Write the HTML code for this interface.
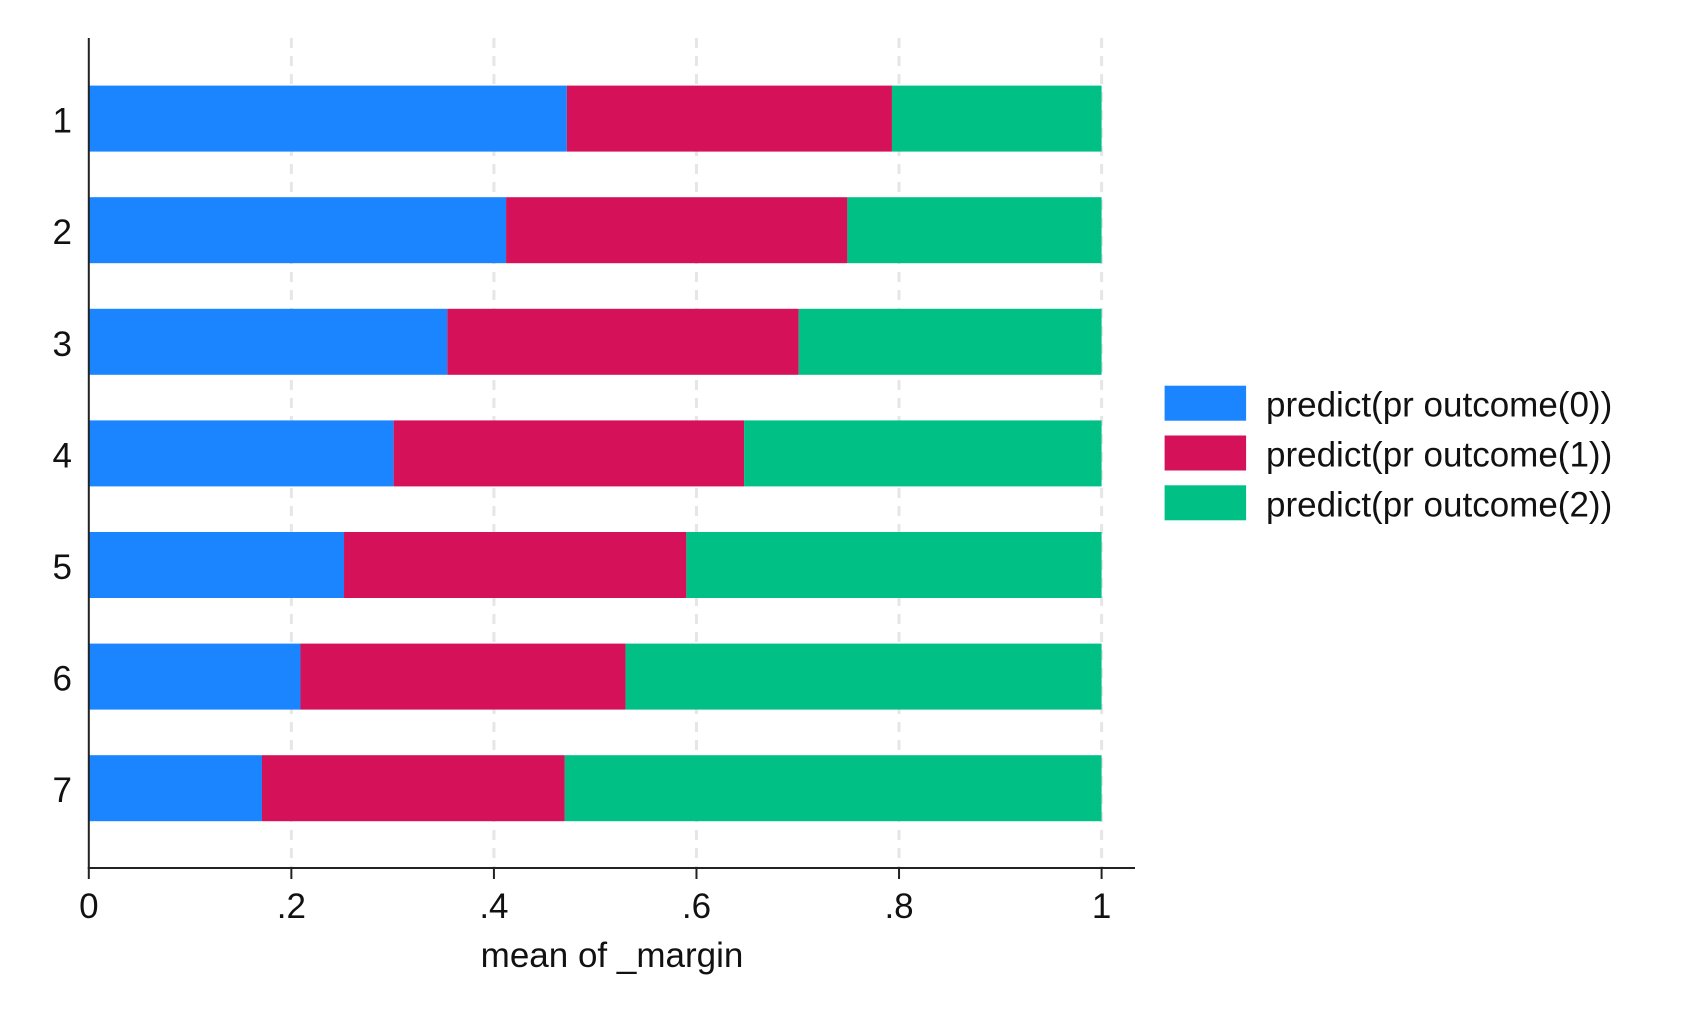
<!DOCTYPE html>
<html><head><meta charset="utf-8"><style>
body{margin:0;background:#fff}
svg{display:block;font-family:"Liberation Sans",sans-serif}
</style></head><body>
<svg id="chart" width="1698" height="1018" viewBox="0 0 1698 1018">
<g id="grid"></g>
<g id="bars"></g>
<g id="axes"></g>
<g id="legend"></g>
</svg>
<script>
const categories = ["1","2","3","4","5","6","7"];
const outcome0 = [0.472,0.412,0.354,0.301,0.252,0.209,0.171];
const outcome1 = [0.321,0.337,0.347,0.346,0.338,0.321,0.299];
const outcome2 = [0.207,0.251,0.299,0.353,0.410,0.470,0.530];
const xTicks = [0,0.2,0.4,0.6,0.8,1];
const xTickLabels = ["0",".2",".4",".6",".8","1"];
const seriesNames = ["predict(pr outcome(0))","predict(pr outcome(1))","predict(pr outcome(2))"];
const colors = ["#1a85ff","#d41159","#00c086"];

const NS="http://www.w3.org/2000/svg";
const X0=88.8, X1=1101.6, YTOP=38, YBOT=868;
const xScale=v=>X0+v*(X1-X0);
const bandStart=85.6, bandStep=111.6, barH=66;
const yScale=i=>bandStart+i*bandStep;
function mk(tag,attrs,parent){const e=document.createElementNS(NS,tag);for(const k in attrs)e.setAttribute(k,attrs[k]);parent.appendChild(e);return e;}
const grid=document.getElementById('grid'),bars=document.getElementById('bars'),axes=document.getElementById('axes'),legend=document.getElementById('legend');

xTicks.forEach((t,i)=>{
  if(t>0){const g=mk('line',{x1:xScale(t),x2:xScale(t),y1:YTOP,y2:YBOT,stroke:'#e6e6e6','stroke-width':3,'stroke-dasharray':'10,8'},grid);
  
  }
  const tk=mk('line',{x1:xScale(t),x2:xScale(t),y1:YBOT,y2:YBOT+11,stroke:'#222','stroke-width':2},axes);
  
  
  const lb=mk('text',{x:xScale(t),y:918,'text-anchor':'middle','font-size':35,fill:'#111'},axes);
  lb.textContent=xTickLabels[i];
  
  
});

const series=[outcome0,outcome1,outcome2];
categories.forEach((c,i)=>{
  let acc=0;
  series.forEach((s,j)=>{
    const r=mk('rect',{x:xScale(acc),y:yScale(i),width:xScale(acc+s[i])-xScale(acc),height:barH,fill:colors[j]},bars);
    
    
    acc+=s[i];
  });
  const lb=mk('text',{x:72,y:yScale(i)+barH/2+14,'text-anchor':'end','font-size':35,fill:'#111'},axes);
  lb.textContent=c;
  
  
});

const ya=mk('line',{x1:X0,x2:X0,y1:YTOP,y2:YBOT+1,stroke:'#222','stroke-width':2},axes);


const xa=mk('line',{x1:X0-1,x2:1135,y1:YBOT,y2:YBOT,stroke:'#222','stroke-width':2},axes);


const xt=mk('text',{x:612,y:967,'text-anchor':'middle','font-size':35,fill:'#111'},axes);
xt.textContent='mean of _margin';



seriesNames.forEach((n,j)=>{
  const y=385.7+j*49.8;
  const sw=mk('rect',{x:1164.6,y:y,width:81.5,height:35,fill:colors[j]},legend);
  
  
  const t=mk('text',{x:1266,y:y+31,'font-size':35,fill:'#111'},legend);
  t.textContent=n;
  
  
});
</script>
</body></html>
